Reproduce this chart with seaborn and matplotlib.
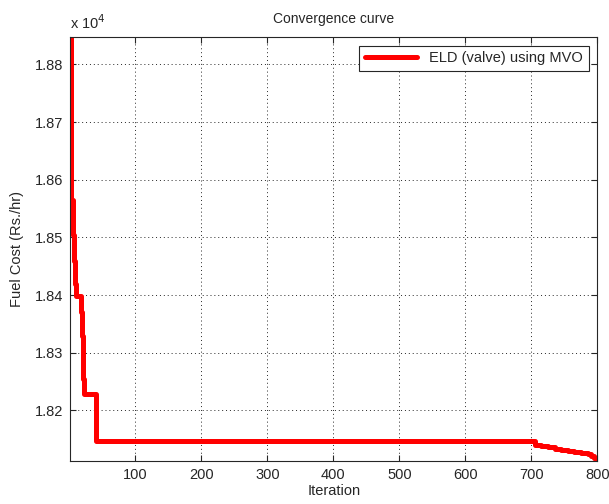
import matplotlib
matplotlib.use("Agg")
import matplotlib.pyplot as plt
from matplotlib.ticker import FuncFormatter
import seaborn as sns
import pandas as pd

# Best fuel cost recorded at the iterations where it changes (step curve)
iterations = [1, 2, 3, 5, 7, 9, 10, 18, 19, 20, 21, 22, 41,
              706, 715, 725, 735, 745, 755, 765, 775, 785, 790, 795, 800]
fuel_cost = [18848, 18662, 18565, 18505, 18460, 18420, 18398, 18370, 18330,
             18290, 18255, 18229, 18147,
             18140, 18138, 18136, 18134, 18132, 18130, 18128, 18126, 18124,
             18121, 18117, 18113]

x_ticks = [100, 200, 300, 400, 500, 600, 700, 800]
y_ticks = [18200, 18300, 18400, 18500, 18600, 18700, 18800]
series_name = "ELD (valve) using MVO"

df = pd.DataFrame({"Iteration": iterations, "Cost": fuel_cost})

sns.set_theme(style="white")
plt.rcParams["font.family"] = ["Liberation Sans", "DejaVu Sans"]
plt.rcParams["xtick.direction"] = "in"
plt.rcParams["ytick.direction"] = "in"

fig = plt.figure(figsize=(6.09, 5.04), dpi=100, facecolor="white")
ax = fig.add_axes([0.115, 0.086, 0.866, 0.841])

sns.lineplot(data=df, x="Iteration", y="Cost", ax=ax, color="#ff0000",
             linewidth=3.6, drawstyle="steps-post", label=series_name)

ax.set_xlim(1, 800)
ax.set_ylim(min(fuel_cost), max(fuel_cost))
ax.set_xticks(x_ticks)
ax.set_yticks(y_ticks)
ax.yaxis.set_major_formatter(FuncFormatter(lambda v, p: f"{v / 1e4:.2f}"))

ax.tick_params(axis="both", which="both", labelsize=10.5, colors="#262626",
               length=4, width=0.8, top=True, right=True,
               bottom=True, left=True, pad=5)
for s in ax.spines.values():
    s.set_visible(True)
    s.set_color("#262626")
    s.set_linewidth(0.8)

ax.grid(True, color="#262626", linestyle=(0, (1, 3)), linewidth=0.7)

ax.set_xlabel("Iteration", fontsize=10.5, labelpad=2)
ax.set_ylabel("Fuel Cost (Rs./hr)", fontsize=10.5, labelpad=8)
ax.set_title("Convergence curve", fontsize=10, pad=10)
ax.text(0.0, 1.012, r"x 10$^4$", transform=ax.transAxes, fontsize=10.5,
        ha="left", va="bottom")

leg = ax.legend(loc="upper right", fancybox=False, framealpha=1,
                edgecolor="#262626", fontsize=10.5, handlelength=3.6,
                borderaxespad=0.6, borderpad=0.4)
leg.get_frame().set_linewidth(0.8)

fig.savefig("out.png", dpi=100, facecolor="white")
